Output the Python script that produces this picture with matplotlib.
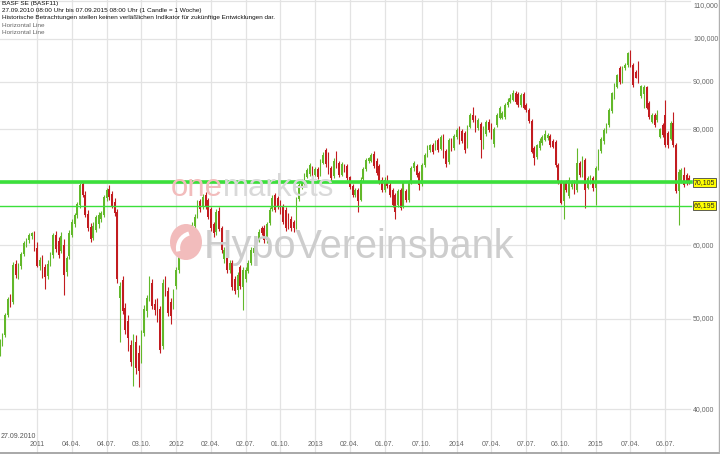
import numpy as np
import pandas as pd
import matplotlib
matplotlib.use('Agg')
import matplotlib.pyplot as plt
from matplotlib.patches import Ellipse, Arc
from matplotlib.lines import Line2D

# ===== chart data (BASF weekly candles, EUR) =====

start_week = '2010-09-27'

opens = [
    46.0, 47.2, 48.0, 50.5, 52.8, 52.2, 57.3, 55.7, 57.0, 58.7,
    60.0, 60.8, 61.4, 61.7, 59.6, 57.0, 58.0, 56.8, 55.6, 57.3,
    58.6, 61.6, 60.6, 59.2, 60.0, 56.2, 58.4, 61.6, 63.2, 64.6,
    66.3, 69.8, 68.0, 64.9, 62.8, 61.1, 62.3, 63.2, 64.0, 64.7,
    67.4, 69.0, 68.2, 66.8, 65.2, 52.6, 55.0, 51.4, 49.8, 46.9,
    44.8, 47.2, 46.0, 45.2, 48.3, 51.0, 52.8, 54.6, 51.9, 52.2,
    51.2, 46.8, 55.0, 53.6, 52.1, 51.6, 54.2, 56.4, 58.6, 60.0,
    61.3, 60.4, 62.0, 62.9, 64.4, 66.9, 65.9, 68.0, 67.1, 65.6,
    63.2, 62.0, 65.4, 62.6, 58.0, 58.6, 56.4, 57.4, 55.2, 53.7,
    56.8, 54.1, 55.2, 56.3, 57.4, 58.8, 59.2, 60.8, 62.6, 62.7,
    60.8, 63.4, 65.6, 67.9, 67.4, 66.8, 66.0, 65.5, 64.6, 64.1,
    63.5, 62.8, 67.3, 69.3, 70.0, 71.1, 71.6, 72.6, 71.5, 72.4,
    71.6, 73.6, 75.9, 75.2, 72.6, 71.3, 74.2, 73.5, 71.5, 73.0,
    73.0, 71.0, 69.5, 67.9, 68.8, 67.2, 70.7, 72.4, 73.9, 74.0,
    75.3, 74.0, 73.0, 70.6, 68.8, 70.4, 69.7, 68.8, 68.0, 66.3,
    68.8, 66.2, 68.6, 67.1, 70.2, 72.6, 73.0, 71.8, 69.8, 73.2,
    75.0, 75.9, 76.9, 76.3, 77.8, 76.2, 78.6, 75.8, 73.7, 77.8,
    76.4, 78.5, 80.2, 79.6, 79.2, 78.8, 80.5, 82.8, 82.4, 80.2,
    81.0, 76.5, 79.0, 81.5, 81.0, 77.2, 80.8, 82.3, 82.3, 82.4,
    84.9, 85.6, 86.0, 87.5, 87.3, 84.9, 87.3, 84.9, 83.9, 81.6,
    76.4, 74.6, 76.3, 77.3, 77.9, 78.2, 78.6, 77.6, 77.4, 73.2,
    70.2, 66.9, 70.1, 67.8, 69.4, 70.2, 68.8, 73.6, 71.4, 74.1,
    69.2, 70.2, 70.9, 69.1, 72.6, 75.8, 77.6, 79.6, 80.8, 83.6,
    86.6, 88.8, 93.0, 90.0, 93.0, 93.8, 96.8, 93.8, 92.1, 94.2,
    86.9, 87.3, 88.7, 85.3, 81.5, 82.9, 81.8, 78.5, 80.8, 82.8,
    79.2, 78.1, 81.2, 76.9, 68.6, 70.3, 71.4, 71.4, 70.8,
]

highs = [
    47.6, 48.3, 50.8, 52.8, 53.2, 57.6, 57.8, 57.5, 59.0, 60.6,
    61.1, 61.9, 62.0, 62.1, 60.5, 58.3, 58.6, 57.3, 57.8, 59.0,
    61.9, 62.1, 61.3, 62.0, 60.9, 58.4, 62.3, 64.1, 65.0, 66.8,
    70.0, 70.1, 68.6, 65.5, 63.4, 63.6, 64.7, 65.1, 65.4, 68.0,
    69.1, 69.6, 68.6, 67.4, 65.6, 54.8, 55.6, 52.0, 50.5, 47.5,
    48.2, 48.0, 46.9, 48.7, 51.8, 53.0, 55.6, 55.2, 52.5, 52.6,
    51.6, 55.2, 55.6, 54.1, 52.6, 53.9, 56.8, 59.3, 60.5, 62.0,
    61.8, 62.7, 63.6, 64.9, 67.2, 67.3, 68.1, 68.4, 67.5, 66.0,
    63.6, 65.6, 65.9, 63.0, 59.8, 59.0, 57.8, 57.8, 55.6, 56.2,
    57.2, 56.8, 56.9, 57.9, 59.7, 60.1, 61.2, 62.4, 63.0, 63.1,
    63.6, 65.9, 68.0, 68.3, 67.8, 67.2, 66.4, 65.9, 65.0, 64.5,
    63.9, 67.6, 70.0, 70.7, 71.7, 72.7, 73.6, 73.0, 72.9, 72.8,
    74.3, 75.6, 76.4, 75.6, 73.0, 74.5, 75.8, 73.9, 73.7, 73.4,
    73.4, 71.3, 69.9, 69.2, 69.2, 71.0, 72.8, 74.4, 74.6, 75.4,
    75.7, 74.4, 73.4, 71.0, 71.0, 71.5, 70.1, 69.2, 68.3, 69.0,
    69.2, 70.4, 69.0, 70.6, 73.0, 73.9, 73.4, 72.2, 73.6, 75.4,
    76.9, 77.2, 77.3, 77.8, 78.2, 78.9, 79.0, 76.2, 78.2, 78.2,
    79.0, 80.3, 80.6, 80.0, 79.6, 80.9, 83.2, 84.6, 82.8, 82.2,
    81.4, 80.7, 81.9, 82.0, 81.3, 80.4, 83.2, 84.7, 83.6, 85.3,
    86.4, 87.2, 88.1, 88.0, 87.7, 87.4, 87.7, 85.3, 84.3, 82.0,
    76.8, 77.2, 78.2, 78.8, 79.8, 79.2, 79.0, 78.0, 77.8, 73.6,
    70.6, 70.4, 70.5, 71.0, 70.5, 70.6, 76.3, 74.0, 74.8, 74.5,
    71.2, 71.4, 71.3, 73.1, 76.2, 78.4, 80.2, 81.2, 84.2, 87.8,
    89.6, 91.8, 93.5, 93.6, 94.2, 96.9, 97.3, 94.2, 92.5, 94.6,
    89.3, 89.3, 89.1, 85.7, 83.2, 83.3, 83.9, 80.3, 81.2, 86.0,
    79.6, 81.6, 83.5, 77.3, 72.4, 72.6, 72.9, 71.8, 71.4,
]

lows = [
    45.6, 46.8, 47.8, 50.2, 51.5, 51.9, 55.4, 55.2, 56.6, 58.4,
    59.7, 60.4, 61.0, 59.2, 56.8, 56.5, 55.4, 53.9, 55.2, 57.0,
    58.2, 59.0, 58.2, 58.8, 53.0, 55.6, 58.0, 61.2, 62.8, 64.2,
    65.8, 67.6, 64.3, 62.2, 60.5, 60.8, 62.0, 62.6, 63.5, 64.3,
    67.0, 67.2, 65.8, 64.5, 54.6, 47.2, 50.6, 48.2, 46.2, 44.5,
    42.4, 43.6, 42.2, 44.8, 47.9, 50.3, 52.3, 51.2, 50.5, 49.6,
    46.0, 46.4, 52.9, 50.4, 49.4, 51.2, 53.8, 56.0, 58.2, 59.7,
    59.4, 60.0, 61.7, 62.5, 64.2, 65.2, 65.6, 65.7, 64.0, 62.2,
    61.3, 61.6, 62.1, 58.9, 57.5, 56.0, 56.0, 53.7, 53.2, 52.8,
    53.8, 51.1, 54.8, 56.0, 57.1, 58.4, 58.9, 60.5, 61.5, 60.3,
    60.4, 63.1, 65.3, 65.1, 65.6, 64.9, 63.2, 62.2, 62.4, 62.2,
    62.0, 62.4, 67.0, 68.9, 69.6, 70.8, 71.2, 70.9, 71.2, 70.7,
    71.3, 73.3, 72.9, 71.6, 70.5, 70.9, 72.6, 71.1, 71.2, 72.0,
    70.5, 69.0, 67.6, 67.6, 65.1, 66.9, 70.4, 72.1, 73.5, 73.7,
    72.6, 71.4, 69.9, 68.4, 68.5, 69.1, 67.6, 66.0, 64.0, 66.0,
    65.5, 65.8, 66.8, 66.8, 69.9, 72.2, 71.0, 68.8, 69.5, 72.9,
    74.7, 75.6, 75.2, 76.0, 75.6, 75.9, 74.4, 72.8, 73.4, 75.8,
    76.0, 78.1, 77.2, 77.3, 75.5, 76.4, 80.2, 81.5, 79.5, 79.8,
    74.5, 76.1, 78.6, 79.5, 78.0, 76.6, 80.5, 82.0, 82.0, 82.1,
    84.6, 85.3, 85.7, 85.2, 84.6, 84.6, 84.0, 83.5, 81.2, 75.4,
    73.2, 74.3, 76.0, 77.0, 77.6, 77.9, 76.6, 76.3, 72.8, 69.9,
    66.5, 64.1, 68.5, 67.4, 69.0, 68.1, 68.5, 71.0, 71.0, 65.8,
    68.9, 69.9, 68.7, 66.3, 72.3, 75.5, 77.2, 79.3, 80.5, 83.3,
    86.3, 88.5, 89.5, 89.7, 92.6, 93.4, 93.4, 88.8, 90.7, 89.6,
    86.5, 84.3, 84.0, 82.1, 81.2, 80.5, 81.4, 78.2, 78.5, 76.5,
    76.3, 77.8, 76.5, 68.3, 63.1, 70.0, 69.3, 69.6, 69.8,
]

closes = [
    47.2, 48.0, 50.5, 52.5, 52.2, 57.1, 55.7, 57.0, 58.7, 60.3,
    60.8, 61.5, 61.8, 59.6, 57.0, 57.9, 56.6, 55.5, 57.3, 58.7,
    61.6, 59.5, 58.6, 61.4, 55.8, 58.1, 61.8, 63.6, 64.7, 66.4,
    69.7, 68.0, 64.7, 62.7, 61.0, 63.0, 64.4, 64.6, 65.0, 67.6,
    68.8, 67.6, 66.2, 65.0, 55.2, 54.3, 51.0, 48.6, 47.7, 45.0,
    47.8, 44.3, 44.0, 48.3, 51.3, 52.6, 54.8, 51.6, 51.1, 50.2,
    46.3, 54.6, 53.3, 50.8, 50.4, 53.5, 56.4, 58.9, 60.0, 61.5,
    59.9, 62.3, 63.1, 64.4, 66.7, 65.6, 67.7, 66.0, 64.4, 62.6,
    61.9, 65.2, 62.5, 59.3, 59.3, 56.4, 57.4, 54.1, 53.6, 55.8,
    54.2, 56.4, 56.5, 57.5, 59.3, 59.6, 60.8, 62.0, 61.9, 60.8,
    63.3, 65.5, 67.5, 65.5, 65.9, 65.2, 63.6, 62.6, 62.8, 62.6,
    62.6, 67.3, 69.6, 70.3, 71.3, 72.3, 73.2, 71.3, 72.4, 71.1,
    73.9, 75.1, 73.3, 72.1, 70.9, 74.0, 72.9, 71.5, 73.3, 72.3,
    70.9, 69.4, 68.0, 68.8, 66.9, 70.6, 72.5, 74.1, 74.4, 75.0,
    73.0, 71.8, 70.3, 68.8, 70.6, 69.5, 68.0, 66.3, 65.1, 68.6,
    65.8, 70.0, 67.1, 70.2, 72.6, 73.5, 71.4, 69.7, 73.2, 75.0,
    76.5, 76.9, 75.6, 77.4, 76.0, 78.5, 74.8, 73.3, 77.8, 76.4,
    78.6, 79.9, 77.6, 77.6, 76.0, 80.5, 82.8, 81.8, 79.8, 81.8,
    77.9, 80.2, 81.5, 79.9, 78.3, 80.0, 82.8, 84.2, 83.3, 84.9,
    85.6, 86.4, 87.4, 85.5, 84.9, 87.0, 84.4, 83.8, 81.6, 75.6,
    74.5, 76.9, 77.7, 78.4, 79.0, 78.8, 77.0, 76.6, 73.2, 70.2,
    66.7, 70.0, 68.8, 70.6, 70.2, 68.4, 73.6, 71.4, 74.4, 68.8,
    70.8, 71.0, 69.1, 72.6, 75.8, 78.0, 79.8, 80.8, 83.8, 87.4,
    89.2, 91.5, 89.9, 93.3, 93.8, 96.6, 93.8, 89.2, 90.9, 89.8,
    89.0, 88.9, 84.4, 82.5, 82.9, 80.9, 82.8, 80.0, 78.8, 76.9,
    76.9, 81.2, 76.9, 68.6, 72.0, 72.3, 69.7, 70.1, 70.1,
]

# x axis: week of each tick (monday) and its label
tick_weeks = ['2011-01-03', '2011-04-04', '2011-07-04', '2011-10-03',
              '2012-01-02', '2012-04-02', '2012-07-02', '2012-10-01',
              '2012-12-31', '2013-04-01', '2013-07-01', '2013-10-07',
              '2014-01-06', '2014-04-07', '2014-07-07', '2014-10-06',
              '2015-01-05', '2015-04-06', '2015-07-06']
tick_labels = ['2011', '04.04.', '04.07.', '03.10.',
               '2012', '02.04.', '02.07.', '01.10.',
               '2013', '02.04.', '01.07.', '07.10.',
               '2014', '07.04.', '07.07.', '06.10.',
               '2015', '07.04.', '06.07.']

# y axis (log) grid
grid_levels = [40, 50, 60, 70, 80, 90, 100, 110]
grid_labels = ['40,000', '50,000', '60,000', '70,000', '80,000',
               '90,000', '100,000', '110,000']

# drawn horizontal lines
hline_levels = [70.105, 66.195]
hline_labels = ['70,105', '66,195']
hline_widths = [2.6, 1.0]

header_lines = ['BASF SE (BASF11)',
                '27.09.2010 08:00 Uhr bis 07.09.2015 08:00 Uhr (1 Candle = 1 Woche)',
                'Historische Betrachtungen stellen keinen verläßlichen Indikator für zukünftige Entwicklungen dar.']
legend_lines = ['Horizontal Line', 'Horizontal Line']

# ===== figure =====

W, H = 720, 454
GREEN = '#62b82a'
RED = '#c21c20'
LINE_GREEN = '#3be03b'
GRID = '#e3e3e3'
FONT = 'Liberation Sans'

plt.rcParams['font.family'] = FONT

fig = plt.figure(figsize=(W / 100, H / 100), dpi=100)
ax = fig.add_axes([0, 0, 1, 1])
ax.set_yscale('log')
ax.set_xlim(0.11, 269.5)
ax.set_ylim(35.79, 110.14)
ax.axis('off')


def fx(px):
    return px / W


def fy(py):
    return 1 - py / H


o = np.array(opens)
h = np.array(highs)
l = np.array(lows)
c = np.array(closes)
idx = np.arange(len(c))
colors = np.where(c >= o, GREEN, RED)

# week index of each tick
t0 = pd.Timestamp(start_week)
tick_idx = [(pd.Timestamp(d) - t0).days // 7 for d in tick_weeks]

# grid
for ti in tick_idx:
    ax.axvline(ti, color=GRID, lw=0.9, zorder=0)
for g in grid_levels:
    ax.axhline(g, xmax=690 / W, color=GRID, lw=0.9, zorder=0)

# watermark
wm_one = fig.text(fx(171), fy(196), 'one', fontsize=22.5, color='#f2bcbc',
                  ha='left', va='baseline', zorder=0)
fig.canvas.draw()
bb = wm_one.get_window_extent()
fig.text(bb.x1 / W, fy(196), 'markets', fontsize=22.5, color='#d9d9d9',
         ha='left', va='baseline', zorder=0)
fig.text(fx(204), fy(258), 'HypoVereinsbank', fontsize=28.5, color='#cdcdcd',
         ha='left', va='baseline', zorder=0)
fig.patches.append(Ellipse((fx(186), fy(242)), 32 / W, 36 / H,
                           transform=fig.transFigure, fc='#f2bcbc',
                           ec='none', zorder=0))
fig.patches.append(Arc((fx(193), fy(248)), 30 / W, 30 / H, angle=0,
                       theta1=100, theta2=200, transform=fig.transFigure,
                       color='white', lw=3, zorder=0))

# candles
ax.vlines(idx, l, h, colors=colors, lw=0.8, zorder=2)
body_lo = np.minimum(o, c)
body_h = np.maximum(np.abs(c - o), 0.15)
ax.bar(idx, body_h, bottom=body_lo, width=0.62, color=colors, lw=0, zorder=3)

# horizontal lines + price boxes
for lev, lab, lw in zip(hline_levels, hline_labels, hline_widths):
    ax.axhline(lev, xmax=691 / W, color=LINE_GREEN, lw=lw, zorder=4)
    ax.text(694 / W, lev, lab, transform=ax.get_yaxis_transform(),
            fontsize=5, ha='left', va='center', color='#222222', zorder=5,
            bbox=dict(boxstyle='square,pad=0.12', fc='#ffff00', ec='#444444', lw=0.6))

# y labels (top one sits against the upper edge)
for g, lab in zip(grid_levels, grid_labels):
    va = 'top' if g == grid_levels[-1] else 'center'
    ypos = min(g, 109.6)
    ax.text(693 / W, ypos, lab, transform=ax.get_yaxis_transform(),
            fontsize=5, ha='left', va=va, color='#666666', zorder=1)

# x labels
for ti, lab in zip(tick_idx, tick_labels):
    ax.text(ti, 1 - 444 / H, lab, transform=ax.get_xaxis_transform(),
            fontsize=5, ha='center', va='center', color='#666666')
ax.text(idx[0] + 0.3, 1 - 437 / H, pd.Timestamp(start_week).strftime('%d.%m.%Y'),
        transform=ax.get_xaxis_transform(), fontsize=5, ha='left', va='center',
        color='#555555')

# header
for k, line in enumerate(header_lines):
    fig.text(fx(2), fy(4 + 6.5 * k), line, fontsize=4.6, ha='left', va='center',
             color='#111111')
for k, line in enumerate(legend_lines):
    fig.text(fx(2), fy(25.5 + 7 * k), line, fontsize=4.6, ha='left', va='center',
             color='#666666')

# frame bits
fig.lines.append(Line2D([0, 1], [fy(452.5), fy(452.5)], transform=fig.transFigure,
                        color='#9a9a9a', lw=1.2))
fig.lines.append(Line2D([fx(718.5), fx(718.5)], [0, 1], transform=fig.transFigure,
                        color='#b0b0b0', lw=1.0))

fig.savefig('out.png', dpi=100)
